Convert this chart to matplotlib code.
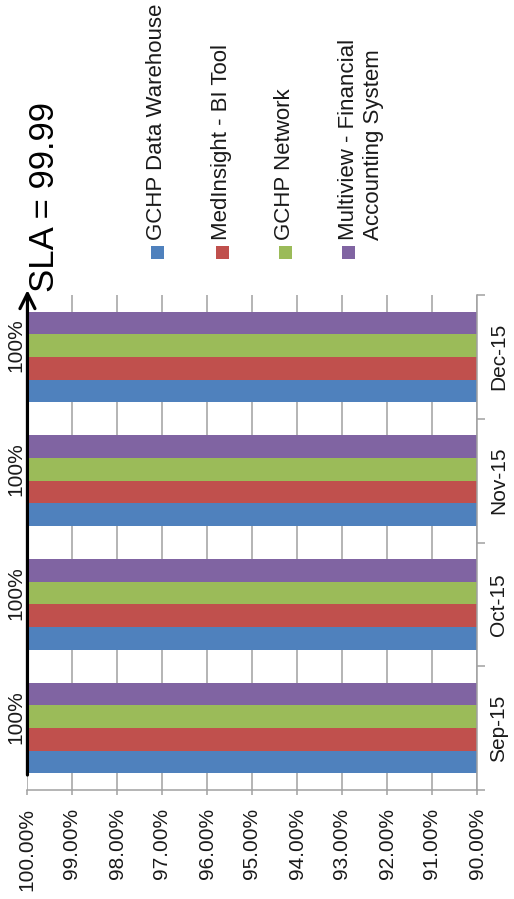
import matplotlib
matplotlib.use("Agg")
import matplotlib.pyplot as plt
from matplotlib.patches import Rectangle

# ---- data ----
months = ["Sep-15", "Oct-15", "Nov-15", "Dec-15"]
series_names = [
    "GCHP Data Warehouse",
    "MedInsight - BI Tool",
    "GCHP Network",
    "Multiview - Financial\nAccounting System",
]
data_warehouse = [100, 100, 100, 100]
medinsight = [100, 100, 100, 100]
network = [100, 100, 100, 100]
multiview = [100, 100, 100, 100]
series_values = [data_warehouse, medinsight, network, multiview]
value_ticks = [90, 91, 92, 93, 94, 95, 96, 97, 98, 99, 100]
sla = 99.99

colors = ["#4F81BD", "#C0504D", "#9BBB59", "#8064A2"]
grid_color = "#A0A0A0"
text_color = "#1a1a1a"

plt.rcParams["font.family"] = ["Liberation Sans", "DejaVu Sans"]

W, H = 514, 899
fig = plt.figure(figsize=(W / 100, H / 100), dpi=100)
ax = fig.add_axes([27 / W, (H - 790) / H, 450 / W, 495 / H])

# value axis runs horizontally, 100% on the left
vmin, vmax = value_ticks[0], value_ticks[-1]
ax.set_xlim(vmax, vmin)
ax.set_ylim(-0.5, len(months) - 0.5)

bar_h = 0.183
n = len(series_values)
offsets = [(-(n - 1) / 2 + k) * bar_h for k in range(n)]
centers = list(range(len(months)))

for vals, off, col in zip(series_values, offsets, colors):
    ax.barh([c + off for c in centers], [v - vmin for v in vals], left=vmin,
            height=bar_h, color=col, edgecolor="none", zorder=2)

# gridlines and value ticks
ax.set_axisbelow(True)
ax.set_xticks(value_ticks)
ax.set_xticklabels([f"{v:.2f}%" for v in value_ticks], rotation=90,
                   fontsize=15, color=text_color)
ax.xaxis.grid(True, color=grid_color, lw=1.1)
ax.tick_params(axis="x", length=3.6, width=1.1, color=grid_color, pad=9.4)

# category axis on the right
ax.yaxis.tick_right()
bounds = [c - 0.5 for c in centers] + [centers[-1] + 0.5]
ax.set_yticks(bounds)
ax.set_yticklabels([])
ax.set_yticks(centers, minor=True)
ax.set_yticklabels(months, minor=True, rotation=90, va="center",
                   fontsize=15, color=text_color)
ax.tick_params(axis="y", which="major", length=5.8, width=1.1, color=grid_color)
ax.tick_params(axis="y", which="minor", length=0, pad=8.5)

for side in ("top", "left"):
    ax.spines[side].set_visible(False)
for side in ("bottom", "right"):
    ax.spines[side].set_color(grid_color)
    ax.spines[side].set_linewidth(1.1)

# data labels for the network series
for c, v in zip(centers, network):
    ax.annotate(f"{v:.0f}%", xy=(v, c + offsets[2]), xytext=(-2, 0),
                textcoords="offset pixels", rotation=90, ha="right",
                va="center", fontsize=15, color=text_color,
                annotation_clip=False)

# SLA marker
ax.annotate("", xy=(sla, 3.54), xytext=(sla, -0.379),
            arrowprops=dict(arrowstyle="->", lw=2.3, color="black",
                            mutation_scale=27, shrinkA=0, shrinkB=0),
            annotation_clip=False, zorder=5)
ax.annotate(f"SLA = {sla:.2f}", xy=(sla, 3.5), xytext=(17, 3),
            textcoords="offset pixels", rotation=90, ha="center",
            va="bottom", fontsize=25, color="black", annotation_clip=False)

# legend, drawn rotated
leg_x = [157, 222, 285, 361]
sq = 13
for x, name, col in zip(leg_x, series_names, colors):
    sx = x if "\n" not in name else 348
    fig.patches.append(Rectangle(((sx - sq / 2) / W, (H - 252 - sq / 2) / H),
                                 sq / W, sq / H, transform=fig.transFigure,
                                 facecolor=col, edgecolor="none"))
    fig.text(x / W, (H - 240) / H, name, rotation=90, ha="center",
             va="bottom", fontsize=16, color=text_color,
             multialignment="left")

fig.savefig("out.png", dpi=100)
